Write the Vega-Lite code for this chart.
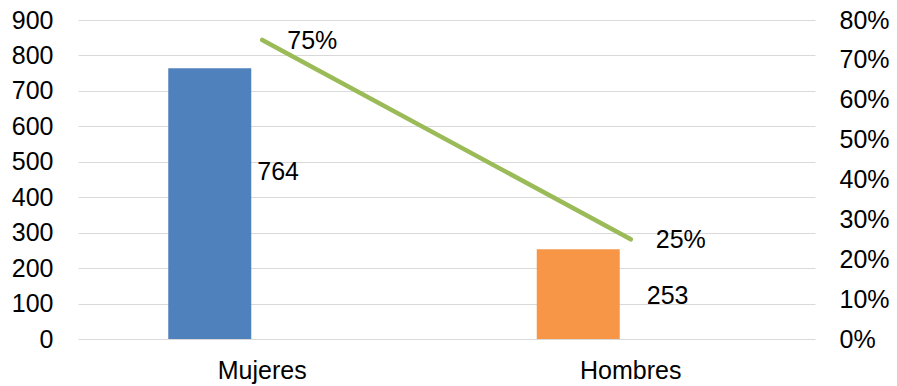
{
  "$schema": "https://vega.github.io/schema/vega-lite/v6.json",
  "width": 737,
  "height": 319,
  "autosize": {"type": "none"},
  "padding": {"left": 78, "top": 20, "right": 82, "bottom": 47},
  "background": "white",
  "config": {
    "view": {"stroke": null},
    "font": "Liberation Sans",
    "text": {"font": "Liberation Sans", "fontSize": 25, "color": "#000000"},
    "axis": {"labelFont": "Liberation Sans", "labelFontSize": 25, "labelColor": "#000000", "title": null, "ticks": false, "domain": false}
  },
  "data": {"values": [
    {"sexo": "Mujeres", "n": 764, "pct": 0.75},
    {"sexo": "Hombres", "n": 253, "pct": 0.25}
  ]},
  "encoding": {
    "x": {"field": "sexo", "type": "nominal", "sort": ["Mujeres", "Hombres"],
      "scale": {"paddingInner": 0, "paddingOuter": 0},
      "axis": {"labelAngle": 0, "labelPadding": 19, "grid": false}}
  },
  "layer": [
    {
      "encoding": {
        "y": {"field": "n", "type": "quantitative",
          "scale": {"domain": [0, 900], "nice": false},
          "axis": {"orient": "left", "values": [0, 100, 200, 300, 400, 500, 600, 700, 800, 900], "grid": true, "gridColor": "#d9d9d9", "gridWidth": 1.2, "labelPadding": 25}}
      },
      "layer": [
        {"mark": {"type": "bar", "width": 83, "xOffset": -52.5},
         "encoding": {"color": {"field": "sexo", "type": "nominal", "scale": {"domain": ["Mujeres", "Hombres"], "range": ["#4F81BD", "#F79646"]}, "legend": null}}},
        {"transform": [{"filter": "datum.sexo === 'Mujeres'"}],
         "mark": {"type": "text", "align": "left", "baseline": "middle", "dx": -5, "dy": 104},
         "encoding": {"text": {"field": "n", "type": "quantitative"}}},
        {"transform": [{"filter": "datum.sexo === 'Hombres'"}],
         "mark": {"type": "text", "align": "left", "baseline": "middle", "dx": 16, "dy": 47},
         "encoding": {"text": {"field": "n", "type": "quantitative"}}}
      ]
    },
    {
      "encoding": {
        "y": {"field": "pct", "type": "quantitative",
          "scale": {"domain": [0, 0.8], "nice": false},
          "axis": {"orient": "right", "values": [0, 0.1, 0.2, 0.3, 0.4, 0.5, 0.6, 0.7, 0.8], "format": ".0%", "grid": false, "labelPadding": 24}}
      },
      "layer": [
        {"mark": {"type": "line", "color": "#9BBB59", "strokeWidth": 4.5, "strokeCap": "round"}},
        {"mark": {"type": "text", "align": "left", "baseline": "middle", "dx": 25, "dy": 1},
         "encoding": {"text": {"field": "pct", "type": "quantitative", "format": ".0%"}}}
      ]
    }
  ],
  "resolve": {"scale": {"y": "independent", "color": "independent"}}
}
